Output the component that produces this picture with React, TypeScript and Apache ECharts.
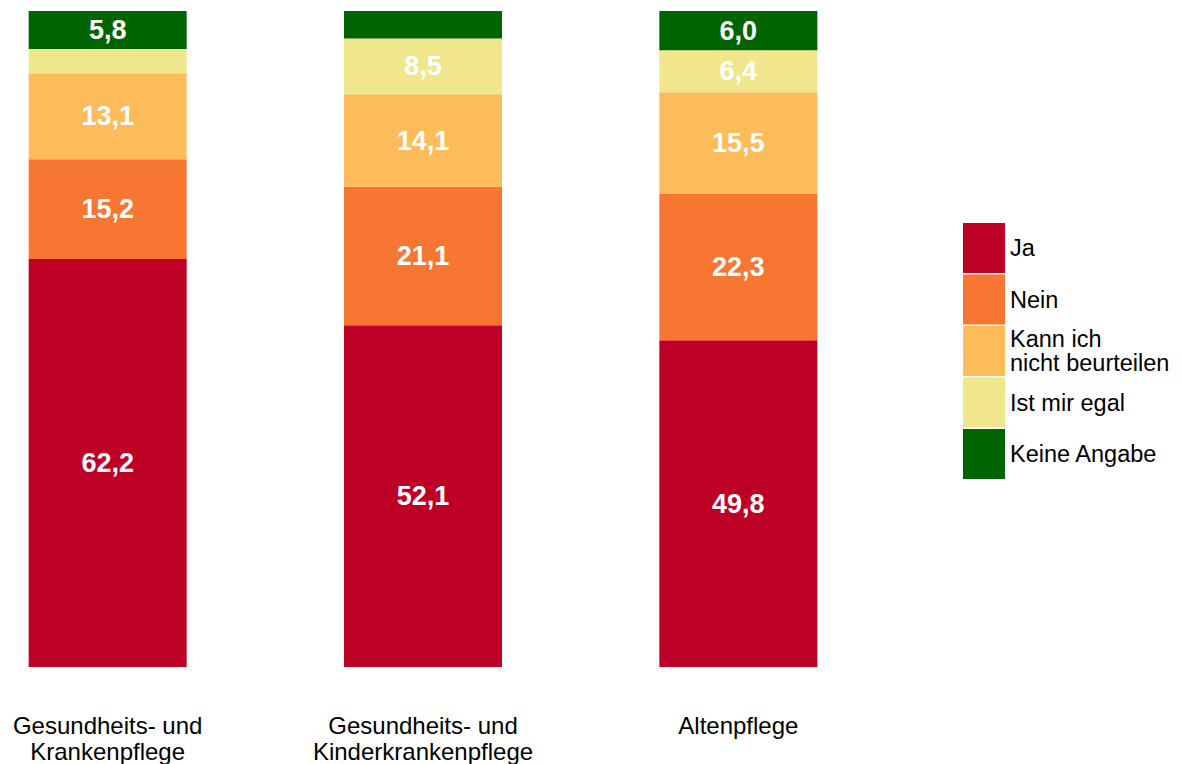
import React, { useEffect, useRef } from "react";
import * as echarts from "echarts";

const categories = ["Gesundheits- und\nKrankenpflege", "Gesundheits- und\nKinderkrankenpflege", "Altenpflege"];
const seriesNames = ["Ja", "Nein", "Kann ich\nnicht beurteilen", "Ist mir egal", "Keine Angabe"];
const ja = [62.2, 52.1, 49.8];
const nein = [15.2, 21.1, 22.3];
const kann = [13.1, 14.1, 15.5];
const egal = [3.7, 8.5, 6.4];
const keine = [5.8, 4.2, 6.0];
const colors = ["#BE0027", "#F77732", "#FDBB5A", "#F0E68C", "#006400"];

export default function App() {
  const ref = useRef<HTMLDivElement>(null);
  useEffect(() => {
    const chart = echarts.init(ref.current!, undefined, { renderer: "svg" });
    const values = [ja, nein, kann, egal, keine];
    chart.setOption({
      animation: false,
      textStyle: { fontFamily: "Liberation Sans, Arial, sans-serif" },
      grid: { left: -50, width: 946, top: 11, height: 656, outerBoundsMode: "none", containLabel: false },
      legend: {
        orient: "vertical",
        left: 958,
        top: 218,
        itemWidth: 42,
        itemHeight: 50,
        itemGap: 1.5,
        icon: "rect",
        selectedMode: false,
        textStyle: { fontSize: 23.5, color: "#000", lineHeight: 23.5 },
        data: seriesNames,
      },
      xAxis: {
        type: "category",
        data: categories,
        axisLine: { show: false },
        axisTick: { show: false },
        axisLabel: { fontSize: 24, color: "#000", lineHeight: 26, margin: 45, interval: 0 },
      },
      yAxis: { type: "value", min: 0, max: 100, show: false },
      series: seriesNames.map((name, i) => ({
        name,
        type: "bar",
        stack: "total",
        barWidth: 158,
        itemStyle: { color: colors[i] },
        label: {
          show: true,
          position: "inside",
          color: "#fff",
          fontWeight: "bold",
          fontSize: 27,
          formatter: (p: any) => (p.value >= 5 ? p.value.toFixed(1).replace(".", ",") : ""),
        },
        data: values[i],
      })),
    });
    return () => chart.dispose();
  }, []);
  return <div ref={ref} style={{ position: "fixed", left: 0, top: 0, width: 1182, height: 764, background: "#fff" }} />;
}
